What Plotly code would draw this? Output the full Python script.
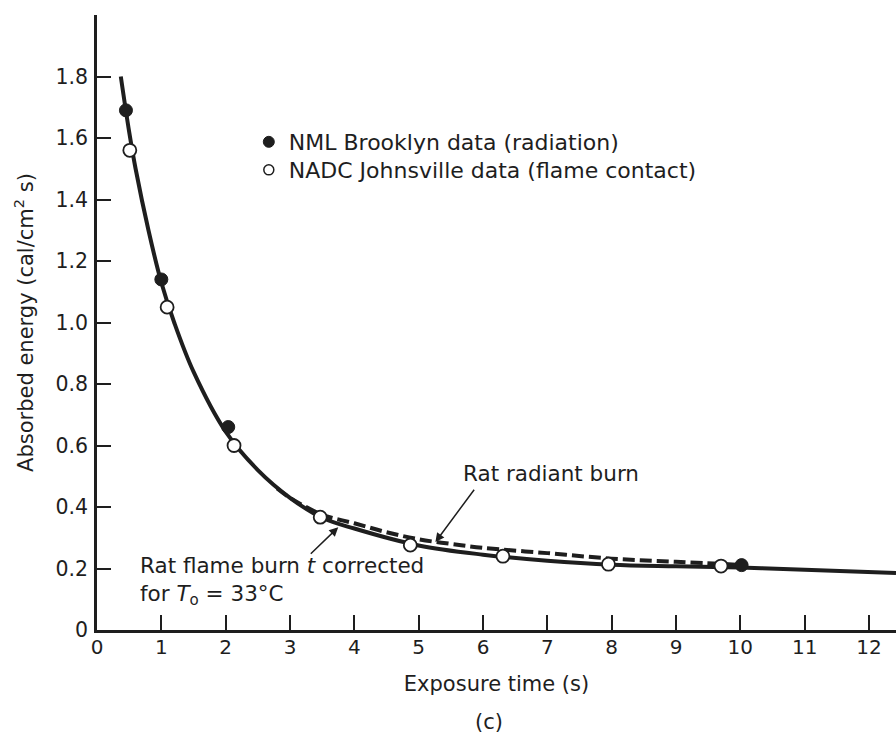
import plotly.graph_objects as go

# ---- data ----
# Rat flame burn (t corrected) - solid curve
flame_t = [0.37, 0.5, 0.6, 0.8, 1.0, 1.2, 1.5, 2.0, 2.5, 3.0, 3.5, 4.0, 5.0, 6.0, 7.0, 8.0, 9.0, 10.0, 11.0, 12.42]
flame_e = [1.80, 1.62, 1.50, 1.30, 1.13, 1.00, 0.84, 0.645, 0.52, 0.43, 0.365, 0.33, 0.275, 0.245, 0.225, 0.212, 0.207, 0.203, 0.196, 0.185]

# Rat radiant burn - dashed curve
radiant_t = [2.8, 3.0, 3.5, 4.0, 4.5, 5.0, 5.5, 6.0, 7.0, 8.0, 9.0, 10.0]
radiant_e = [0.46, 0.43, 0.375, 0.347, 0.318, 0.295, 0.28, 0.267, 0.25, 0.232, 0.222, 0.212]

# NML Brooklyn data (radiation) - filled circles
nml_t = [0.45, 1.0, 2.04, 10.02]
nml_e = [1.69, 1.14, 0.66, 0.211]

# NADC Johnsville data (flame contact) - open circles
nadc_t = [0.51, 1.09, 2.13, 3.47, 4.87, 6.31, 7.95, 9.70]
nadc_e = [1.56, 1.05, 0.60, 0.367, 0.276, 0.240, 0.214, 0.208]

x_ticks = list(range(0, 13))
x_ticklabels = [str(v) for v in x_ticks]
y_ticks = [0, 0.2, 0.4, 0.6, 0.8, 1.0, 1.2, 1.4, 1.6, 1.8]
y_ticklabels = ["0", "0.2", "0.4", "0.6", "0.8", "1.0", "1.2", "1.4", "1.6", "1.8"]

INK = "#1e1e1e"
FONT = "DejaVu Sans"

fig = go.Figure()

fig.add_trace(go.Scatter(x=flame_t, y=flame_e, mode="lines", line=dict(color=INK, width=4, shape="spline"),
                         showlegend=False, hoverinfo="skip"))
fig.add_trace(go.Scatter(x=radiant_t, y=radiant_e, mode="lines",
                         line=dict(color=INK, width=4, dash="12px,5px", shape="spline"),
                         showlegend=False, hoverinfo="skip"))
fig.add_trace(go.Scatter(x=nml_t, y=nml_e, mode="markers",
                         marker=dict(symbol="circle", size=13, color=INK, line=dict(color=INK, width=1)),
                         showlegend=False))
fig.add_trace(go.Scatter(x=nadc_t, y=nadc_e, mode="markers",
                         marker=dict(symbol="circle", size=13, color="white", line=dict(color=INK, width=1.8)),
                         showlegend=False))

# legend entries (each in its own legend box so the row spacing matches)
fig.add_trace(go.Scatter(x=[None], y=[None], mode="markers", name="NML Brooklyn data (radiation)",
                         legend="legend",
                         marker=dict(symbol="circle", size=11, color=INK, line=dict(color=INK, width=1))))
fig.add_trace(go.Scatter(x=[None], y=[None], mode="markers", name="NADC Johnsville data (flame contact)",
                         legend="legend2",
                         marker=dict(symbol="circle", size=10, color="white", line=dict(color=INK, width=1.5))))

annotations = [
    dict(x=5.66, y=0.51, xref="x", yref="y", text="Rat radiant burn", showarrow=False,
         xanchor="left", yanchor="middle", font=dict(family=FONT, size=21.5, color=INK)),
    dict(x=5.26, y=0.286, xref="x", yref="y", ax=5.88, ay=0.461, axref="x", ayref="y", text="",
         showarrow=True, arrowhead=2, arrowsize=1.2, arrowwidth=1.5, arrowcolor=INK),
    dict(x=0.63, y=0.158, xref="x", yref="y",
         text="Rat flame burn <i>t</i> corrected<br>for <i>T</i><sub>o</sub> = 33°C",
         showarrow=False, xanchor="left", yanchor="middle", align="left",
         font=dict(family=FONT, size=21.5, color=INK)),
    dict(x=3.75, y=0.334, xref="x", yref="y", ax=3.30, ay=0.2435, axref="x", ayref="y", text="",
         showarrow=True, arrowhead=2, arrowsize=1.2, arrowwidth=1.5, arrowcolor=INK),
    dict(x=(489 - 97) / 799, y=-(722 - 630) / 615, xref="paper", yref="paper", text="(c)",
         showarrow=False, xanchor="center", yanchor="middle", font=dict(family=FONT, size=21, color=INK)),
]

legend_style = dict(xanchor="left", yanchor="top", bgcolor="rgba(0,0,0,0)",
                    font=dict(family=FONT, size=22, color=INK), itemwidth=30)

fig.update_layout(
    width=896, height=742,
    margin=dict(l=97, r=0, t=15, b=112, autoexpand=False),
    paper_bgcolor="white", plot_bgcolor="white",
    font=dict(family=FONT, size=20, color=INK),
    showlegend=True,
    legend=dict(x=0.19, y=0.8276, **legend_style),
    legend2=dict(x=0.19, y=0.782, **legend_style),
    annotations=annotations,
    xaxis=dict(range=[0, 12.42], tickvals=x_ticks, ticktext=x_ticklabels, ticks="inside", ticklen=15,
               tickwidth=2, tickcolor=INK, showline=True, linewidth=2.5, linecolor=INK, showgrid=False,
               zeroline=False, tickfont=dict(family=FONT, size=20, color=INK), ticklabelstandoff=-3,
               title=dict(text="Exposure time (s)", font=dict(family=FONT, size=21, color=INK), standoff=19),
               automargin=False, fixedrange=True),
    yaxis=dict(range=[0, 2.0], tickvals=y_ticks, ticktext=y_ticklabels, ticks="inside", ticklen=14,
               tickwidth=2, tickcolor=INK, showline=True, linewidth=2.5, linecolor=INK, showgrid=False,
               zeroline=False, tickfont=dict(family=FONT, size=20.5, color=INK), ticklabelstandoff=2,
               title=dict(text="Absorbed energy (cal/cm<sup>2</sup> s)", font=dict(family=FONT, size=21, color=INK), standoff=17),
               automargin=False, fixedrange=True),
)

fig.write_html("out.html")
